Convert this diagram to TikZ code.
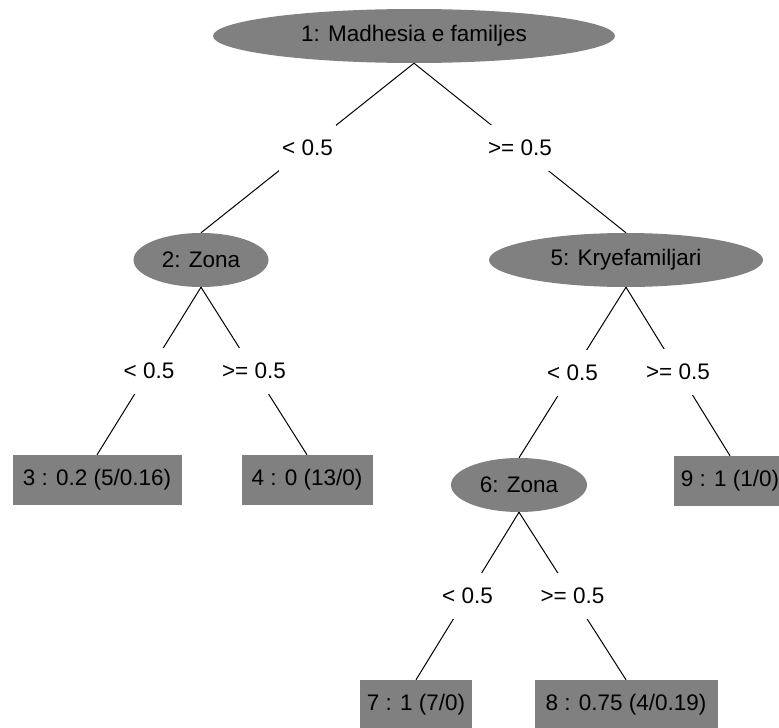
\documentclass[tikz,border=0pt]{standalone}
\usepackage{fontspec}
\setmainfont{Liberation Sans}
\colorlet{SplitFill}{gray}
\colorlet{LeafFill}{gray}
\usetikzlibrary{shapes.geometric}

\begin{document}
\begin{tikzpicture}[x=1pt, y=-1pt,
    font=\fontsize{22.5}{26}\selectfont,
    split/.style={ellipse, fill=SplitFill, inner sep=0pt, minimum height=54pt},
    leaf/.style={rectangle, fill=LeafFill, inner sep=0pt, minimum height=50pt},
    test/.style={fill=white, inner xsep=3pt, inner ysep=0pt, minimum height=46pt},
    edge/.style={line width=1pt}]

\useasboundingbox (0,0) rectangle (779,728);
\clip (0,0) rectangle (779,728);

\node[split, minimum width=402pt] (n1) at (414,36) {1: Madhesia e familjes};
\node[split, minimum width=135pt] (n2) at (201,260) {2: Zona};
\node[split, minimum width=274pt] (n5) at (626,260) {5: Kryefamiljari};
\node[split, minimum width=136pt] (n6) at (519,485) {6: Zona};

\node[leaf, minimum width=169pt] (n3) at (97,480) {3 : 0.2 (5/0.16)};
\node[leaf, minimum width=131pt] (n4) at (307,480) {4 : 0 (13/0)};
\node[leaf, minimum width=112pt] (n9) at (730,481) {9 : 1 (1/0)};
\node[leaf, minimum width=112pt] (n7) at (416,705) {7 : 1 (7/0)};
\node[leaf, minimum width=183pt] (n8) at (626,705) {8 : 0.75 (4/0.19)};

\draw[edge] (n1.south) -- node[test]{< 0.5} (n2.north);
\draw[edge] (n1.south) -- node[test]{>= 0.5} (n5.north);
\draw[edge] (n2.south) -- node[test]{< 0.5} (n3.north);
\draw[edge] (n2.south) -- node[test]{>= 0.5} (n4.north);
\draw[edge] (n5.south) -- node[test]{< 0.5} (n6.north);
\draw[edge] (n5.south) -- node[test]{>= 0.5} (n9.north);
\draw[edge] (n6.south) -- node[test]{< 0.5} (n7.north);
\draw[edge] (n6.south) -- node[test]{>= 0.5} (n8.north);

\end{tikzpicture}
\end{document}
